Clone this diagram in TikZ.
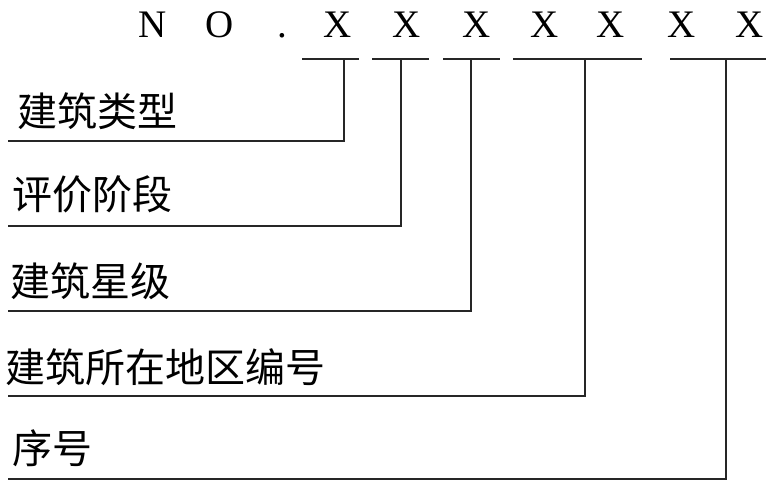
\documentclass[tikz,border=0pt]{standalone}
\usepackage{fontspec}
\setmainfont{Liberation Serif}
\newfontfamily\cjk{Noto Sans CJK SC}
\usepackage{tikz}
\usetikzlibrary{positioning}

\tikzset{
	codechar/.style={font=\fontsize{39}{40}\selectfont, inner sep=0pt, anchor=base},
	fieldname/.style={font=\cjk\fontsize{40}{44}\selectfont, inner sep=0pt, anchor=west},
	leader/.style={black!85, line width=1.8pt}
}

\begin{document}
\begin{tikzpicture}[x=1pt, y=-1pt]
	\useasboundingbox (0,0) rectangle (766,481);
	\node[codechar] (cN) at (153,38) {N};
	\node[codechar] (cO) at (220,38) {O};
	\node[codechar] (cdot) at (282,38) {.};
	\foreach \i/\x in {1/338, 2/407, 3/477, 4/545, 5/611, 6/682, 7/750}
		\node[codechar] (d\i) at (\x,38) {X};
	
	\foreach \i/\sx/\ly/\bl/\br/\tx/\ty/\txt in {
		1/344/141/302/359/17/111/建筑类型,
		2/401/226/372/429/12/194/评价阶段,
		3/471/311/443/500/10/281/建筑星级,
		4/585/396/513/642/5/367/建筑所在地区编号,
		5/726/479/670/770/12/448/序号}{
		\coordinate (bl\i) at (\bl,59);
		\coordinate (br\i) at (\br,59);
		\coordinate (s\i) at (\sx,59);
		\coordinate (e\i) at (8,\ly);
		\node[fieldname] (f\i) at (\tx,\ty) {\txt};
		\draw[leader] (bl\i) -- (br\i);
		\draw[leader] (s\i) |- (e\i);
	}
\end{tikzpicture}
\end{document}
